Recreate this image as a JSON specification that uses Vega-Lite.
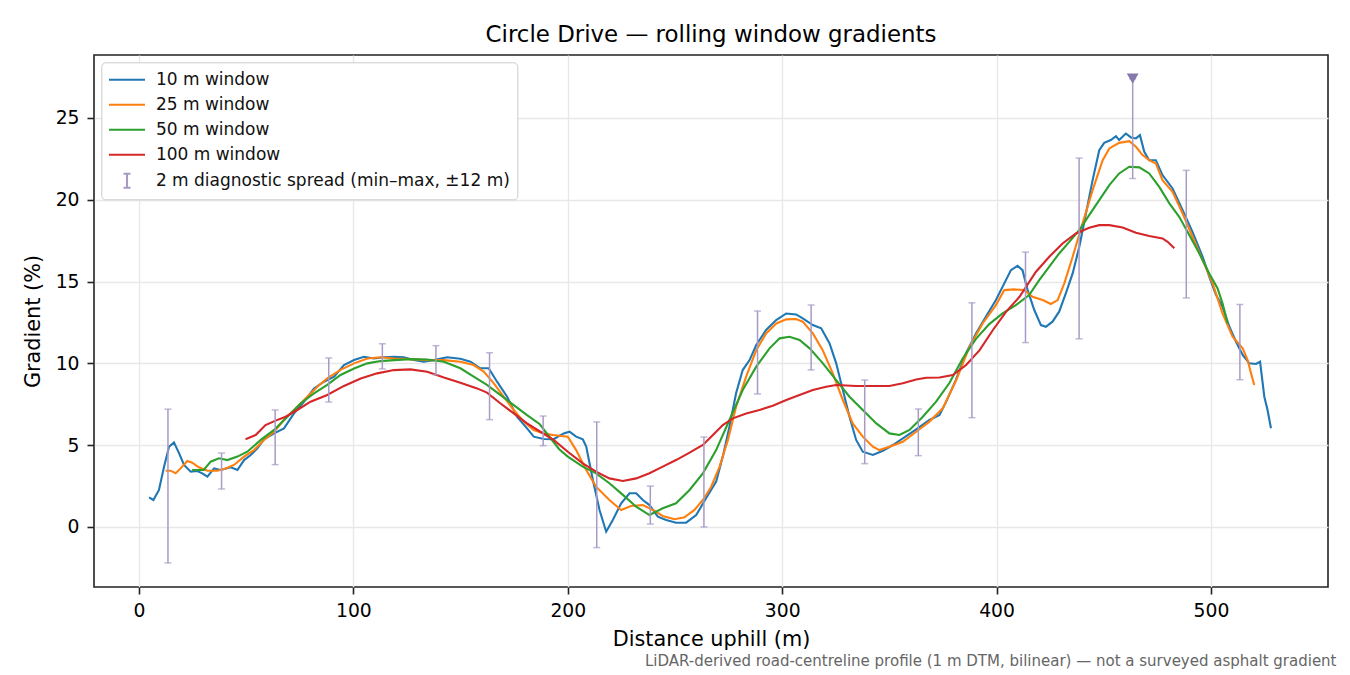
{
  "$schema": "https://vega.github.io/schema/vega-lite/v6.json",
  "width": 1234,
  "height": 532,
  "autosize": {"type": "none"},
  "padding": {"left": 94, "top": 55, "right": 22, "bottom": 88},
  "title": {
    "text": "Circle Drive — rolling window gradients",
    "fontSize": 22.9,
    "fontWeight": "normal",
    "color": "#000",
    "baseline": "alphabetic",
    "offset": -10
  },
  "datasets": {
    "w10": [
      {"d": 4.7, "g": 1.81}, {"d": 6.7, "g": 1.65}, {"d": 9.3, "g": 2.26}, {"d": 11.7, "g": 3.69},
      {"d": 14.0, "g": 4.9}, {"d": 16.3, "g": 5.17}, {"d": 18.7, "g": 4.5}, {"d": 21.0, "g": 3.79},
      {"d": 24.1, "g": 3.38}, {"d": 27.2, "g": 3.42}, {"d": 29.5, "g": 3.28}, {"d": 31.9, "g": 3.08},
      {"d": 35.0, "g": 3.58}, {"d": 38.1, "g": 3.48}, {"d": 42.8, "g": 3.65}, {"d": 45.9, "g": 3.48},
      {"d": 49.0, "g": 4.09}, {"d": 52.1, "g": 4.4}, {"d": 55.2, "g": 4.81}, {"d": 58.3, "g": 5.36},
      {"d": 63.0, "g": 5.72}, {"d": 67.6, "g": 6.03}, {"d": 72.3, "g": 6.94}, {"d": 77.0, "g": 7.66},
      {"d": 81.6, "g": 8.47}, {"d": 86.3, "g": 8.88}, {"d": 91.0, "g": 9.19}, {"d": 95.6, "g": 9.9},
      {"d": 100.3, "g": 10.2}, {"d": 104.9, "g": 10.4}, {"d": 109.6, "g": 10.3}, {"d": 114.2, "g": 10.37},
      {"d": 118.9, "g": 10.4}, {"d": 123.5, "g": 10.37}, {"d": 128.2, "g": 10.2}, {"d": 132.8, "g": 10.1},
      {"d": 137.5, "g": 10.2}, {"d": 143.7, "g": 10.37}, {"d": 149.9, "g": 10.28}, {"d": 154.6, "g": 10.1},
      {"d": 159.2, "g": 9.7}, {"d": 163.1, "g": 9.7}, {"d": 167.0, "g": 8.88}, {"d": 171.7, "g": 7.96},
      {"d": 176.3, "g": 6.74}, {"d": 181.0, "g": 6.03}, {"d": 184.1, "g": 5.52}, {"d": 188.8, "g": 5.38},
      {"d": 193.4, "g": 5.36}, {"d": 198.1, "g": 5.72}, {"d": 200.8, "g": 5.82}, {"d": 203.9, "g": 5.52},
      {"d": 207.0, "g": 5.36}, {"d": 208.6, "g": 4.91}, {"d": 211.7, "g": 2.87}, {"d": 214.8, "g": 1.04},
      {"d": 217.9, "g": -0.29}, {"d": 221.0, "g": 0.43}, {"d": 224.9, "g": 1.45}, {"d": 228.8, "g": 2.06},
      {"d": 231.9, "g": 2.06}, {"d": 235.0, "g": 1.65}, {"d": 238.1, "g": 1.34}, {"d": 242.0, "g": 0.63},
      {"d": 245.9, "g": 0.43}, {"d": 250.5, "g": 0.26}, {"d": 255.2, "g": 0.26}, {"d": 259.9, "g": 0.73},
      {"d": 264.5, "g": 1.75}, {"d": 269.2, "g": 2.77}, {"d": 272.3, "g": 4.3}, {"d": 275.4, "g": 6.13},
      {"d": 278.5, "g": 8.17}, {"d": 281.6, "g": 9.59}, {"d": 284.8, "g": 10.2}, {"d": 287.9, "g": 11.12},
      {"d": 292.5, "g": 12.04}, {"d": 297.2, "g": 12.65}, {"d": 301.9, "g": 13.05}, {"d": 306.5, "g": 12.99},
      {"d": 309.6, "g": 12.75}, {"d": 314.3, "g": 12.34}, {"d": 318.2, "g": 12.14}, {"d": 322.1, "g": 11.22},
      {"d": 325.2, "g": 10.0}, {"d": 328.3, "g": 8.37}, {"d": 331.4, "g": 6.74}, {"d": 334.5, "g": 5.32},
      {"d": 337.6, "g": 4.6}, {"d": 342.3, "g": 4.4}, {"d": 347.0, "g": 4.66}, {"d": 351.6, "g": 5.01},
      {"d": 356.3, "g": 5.42}, {"d": 362.5, "g": 5.97}, {"d": 368.7, "g": 6.54}, {"d": 373.4, "g": 6.84},
      {"d": 376.5, "g": 7.66}, {"d": 381.0, "g": 8.98}, {"d": 385.7, "g": 10.61}, {"d": 390.4, "g": 11.83},
      {"d": 395.0, "g": 12.85}, {"d": 399.7, "g": 13.87}, {"d": 403.6, "g": 14.89}, {"d": 406.7, "g": 15.7},
      {"d": 409.8, "g": 15.97}, {"d": 412.1, "g": 15.7}, {"d": 414.5, "g": 14.48}, {"d": 417.6, "g": 13.26},
      {"d": 420.7, "g": 12.34}, {"d": 423.0, "g": 12.24}, {"d": 426.1, "g": 12.55}, {"d": 429.2, "g": 13.16},
      {"d": 432.3, "g": 14.28}, {"d": 435.5, "g": 15.5}, {"d": 438.6, "g": 17.13}, {"d": 441.7, "g": 19.16},
      {"d": 444.8, "g": 21.2}, {"d": 447.9, "g": 23.03}, {"d": 450.2, "g": 23.48}, {"d": 453.3, "g": 23.65},
      {"d": 455.7, "g": 23.89}, {"d": 457.2, "g": 23.65}, {"d": 460.3, "g": 24.05}, {"d": 462.7, "g": 23.81},
      {"d": 465.0, "g": 23.75}, {"d": 466.9, "g": 23.95}, {"d": 468.9, "g": 22.93}, {"d": 471.2, "g": 22.42},
      {"d": 474.3, "g": 22.42}, {"d": 477.4, "g": 21.51}, {"d": 482.1, "g": 20.69}, {"d": 486.8, "g": 19.37},
      {"d": 491.4, "g": 18.04}, {"d": 496.1, "g": 16.52}, {"d": 499.5, "g": 15.2}, {"d": 502.3, "g": 14.2},
      {"d": 505.4, "g": 13.46}, {"d": 508.6, "g": 12.24}, {"d": 511.7, "g": 11.32}, {"d": 514.8, "g": 10.51},
      {"d": 517.9, "g": 10.0}, {"d": 521.0, "g": 9.96}, {"d": 522.9, "g": 10.1}, {"d": 524.9, "g": 7.96},
      {"d": 526.4, "g": 7.15}, {"d": 528.0, "g": 6.03}
    ],
    "w25": [
      {"d": 12.4, "g": 3.44}, {"d": 14.7, "g": 3.44}, {"d": 17.1, "g": 3.28}, {"d": 19.4, "g": 3.58},
      {"d": 22.5, "g": 4.03}, {"d": 24.8, "g": 3.93}, {"d": 27.9, "g": 3.65}, {"d": 31.9, "g": 3.44},
      {"d": 36.5, "g": 3.44}, {"d": 40.4, "g": 3.58}, {"d": 44.3, "g": 3.79}, {"d": 49.0, "g": 4.3},
      {"d": 53.6, "g": 4.7}, {"d": 58.3, "g": 5.32}, {"d": 63.0, "g": 5.82}, {"d": 67.6, "g": 6.54},
      {"d": 72.3, "g": 7.15}, {"d": 77.0, "g": 7.76}, {"d": 83.2, "g": 8.57}, {"d": 87.8, "g": 9.08},
      {"d": 94.0, "g": 9.6}, {"d": 100.3, "g": 10.0}, {"d": 106.5, "g": 10.3}, {"d": 112.7, "g": 10.37},
      {"d": 118.9, "g": 10.3}, {"d": 126.6, "g": 10.26}, {"d": 134.4, "g": 10.2}, {"d": 142.2, "g": 10.2},
      {"d": 149.9, "g": 10.1}, {"d": 156.1, "g": 9.9}, {"d": 160.8, "g": 9.5}, {"d": 165.5, "g": 8.78},
      {"d": 170.1, "g": 7.96}, {"d": 174.8, "g": 7.15}, {"d": 179.4, "g": 6.44}, {"d": 184.1, "g": 5.93},
      {"d": 188.8, "g": 5.72}, {"d": 193.0, "g": 5.62}, {"d": 200.0, "g": 5.52}, {"d": 203.9, "g": 4.7},
      {"d": 208.6, "g": 3.48}, {"d": 213.2, "g": 2.46}, {"d": 219.4, "g": 1.65}, {"d": 224.9, "g": 1.04},
      {"d": 229.5, "g": 1.28}, {"d": 235.0, "g": 1.34}, {"d": 239.7, "g": 1.04}, {"d": 244.3, "g": 0.67},
      {"d": 249.8, "g": 0.47}, {"d": 254.4, "g": 0.59}, {"d": 259.1, "g": 1.04}, {"d": 263.0, "g": 1.65},
      {"d": 266.9, "g": 2.46}, {"d": 270.8, "g": 3.69}, {"d": 274.7, "g": 5.32}, {"d": 278.5, "g": 7.35},
      {"d": 283.2, "g": 9.19}, {"d": 287.9, "g": 10.81}, {"d": 292.5, "g": 11.83}, {"d": 297.2, "g": 12.44},
      {"d": 301.9, "g": 12.69}, {"d": 306.5, "g": 12.71}, {"d": 309.6, "g": 12.55}, {"d": 314.3, "g": 11.83},
      {"d": 318.9, "g": 10.81}, {"d": 323.6, "g": 9.39}, {"d": 328.3, "g": 7.76}, {"d": 332.9, "g": 6.33},
      {"d": 337.6, "g": 5.52}, {"d": 342.3, "g": 4.91}, {"d": 345.4, "g": 4.7}, {"d": 350.0, "g": 4.91},
      {"d": 356.3, "g": 5.21}, {"d": 362.5, "g": 5.82}, {"d": 368.7, "g": 6.44}, {"d": 374.9, "g": 7.25},
      {"d": 381.2, "g": 8.98}, {"d": 387.4, "g": 11.02}, {"d": 393.5, "g": 12.44}, {"d": 399.7, "g": 13.56},
      {"d": 403.6, "g": 14.48}, {"d": 408.2, "g": 14.52}, {"d": 412.9, "g": 14.48}, {"d": 416.8, "g": 14.07},
      {"d": 421.5, "g": 13.87}, {"d": 425.3, "g": 13.63}, {"d": 428.5, "g": 13.87}, {"d": 431.6, "g": 14.89},
      {"d": 435.5, "g": 16.52}, {"d": 440.1, "g": 18.55}, {"d": 444.8, "g": 20.59}, {"d": 449.5, "g": 22.42},
      {"d": 452.6, "g": 23.14}, {"d": 457.2, "g": 23.48}, {"d": 461.9, "g": 23.58}, {"d": 465.0, "g": 23.24},
      {"d": 468.1, "g": 22.73}, {"d": 471.2, "g": 22.42}, {"d": 474.3, "g": 22.22}, {"d": 477.4, "g": 21.2},
      {"d": 482.1, "g": 20.49}, {"d": 486.8, "g": 19.16}, {"d": 491.4, "g": 17.74}, {"d": 496.1, "g": 16.31},
      {"d": 500.8, "g": 14.89}, {"d": 505.4, "g": 13.05}, {"d": 510.1, "g": 11.63}, {"d": 514.8, "g": 10.92},
      {"d": 517.1, "g": 10.2}, {"d": 518.7, "g": 9.39}, {"d": 520.2, "g": 8.68}
    ],
    "w50": [
      {"d": 24.8, "g": 3.48}, {"d": 30.2, "g": 3.48}, {"d": 33.4, "g": 3.99}, {"d": 37.3, "g": 4.2},
      {"d": 41.2, "g": 4.09}, {"d": 45.9, "g": 4.3}, {"d": 50.5, "g": 4.6}, {"d": 56.8, "g": 5.32},
      {"d": 63.0, "g": 5.93}, {"d": 69.2, "g": 6.74}, {"d": 75.5, "g": 7.56}, {"d": 81.6, "g": 8.17},
      {"d": 87.8, "g": 8.68}, {"d": 94.0, "g": 9.29}, {"d": 100.3, "g": 9.69}, {"d": 106.5, "g": 10.0},
      {"d": 112.7, "g": 10.14}, {"d": 118.9, "g": 10.2}, {"d": 126.6, "g": 10.26}, {"d": 134.4, "g": 10.24},
      {"d": 142.2, "g": 10.1}, {"d": 149.9, "g": 9.7}, {"d": 156.1, "g": 9.19}, {"d": 162.3, "g": 8.68},
      {"d": 168.5, "g": 8.07}, {"d": 174.8, "g": 7.45}, {"d": 181.0, "g": 6.84}, {"d": 186.8, "g": 6.3},
      {"d": 191.5, "g": 5.5}, {"d": 196.0, "g": 4.75}, {"d": 200.0, "g": 4.3}, {"d": 207.0, "g": 3.69},
      {"d": 213.2, "g": 3.28}, {"d": 219.4, "g": 2.67}, {"d": 225.7, "g": 1.96}, {"d": 231.9, "g": 1.24},
      {"d": 238.1, "g": 0.73}, {"d": 244.3, "g": 1.14}, {"d": 250.5, "g": 1.45}, {"d": 256.8, "g": 2.26},
      {"d": 263.0, "g": 3.28}, {"d": 269.2, "g": 4.7}, {"d": 275.4, "g": 6.54}, {"d": 281.6, "g": 8.37},
      {"d": 287.9, "g": 9.8}, {"d": 294.1, "g": 10.92}, {"d": 298.8, "g": 11.53}, {"d": 303.4, "g": 11.63},
      {"d": 308.1, "g": 11.43}, {"d": 312.8, "g": 10.92}, {"d": 319.0, "g": 10.0}, {"d": 325.2, "g": 8.98},
      {"d": 331.4, "g": 7.96}, {"d": 337.6, "g": 7.15}, {"d": 343.9, "g": 6.33}, {"d": 350.0, "g": 5.72},
      {"d": 354.7, "g": 5.62}, {"d": 359.4, "g": 5.93}, {"d": 365.6, "g": 6.74}, {"d": 371.8, "g": 7.66},
      {"d": 378.0, "g": 8.8}, {"d": 384.2, "g": 10.3}, {"d": 390.4, "g": 11.5}, {"d": 396.6, "g": 12.4},
      {"d": 402.8, "g": 13.05}, {"d": 409.0, "g": 13.56}, {"d": 415.2, "g": 14.18}, {"d": 419.9, "g": 15.09},
      {"d": 424.6, "g": 15.91}, {"d": 429.2, "g": 16.72}, {"d": 433.9, "g": 17.43}, {"d": 438.6, "g": 18.15},
      {"d": 443.2, "g": 19.06}, {"d": 447.9, "g": 19.98}, {"d": 452.6, "g": 20.9}, {"d": 457.2, "g": 21.61},
      {"d": 461.9, "g": 22.02}, {"d": 466.6, "g": 21.98}, {"d": 471.2, "g": 21.61}, {"d": 475.9, "g": 20.79},
      {"d": 480.6, "g": 19.78}, {"d": 485.2, "g": 18.96}, {"d": 489.9, "g": 17.84}, {"d": 494.6, "g": 16.72},
      {"d": 499.2, "g": 15.5}, {"d": 503.1, "g": 14.58}, {"d": 505.4, "g": 13.67}, {"d": 507.8, "g": 12.44}
    ],
    "w100": [
      {"d": 49.7, "g": 5.36}, {"d": 54.4, "g": 5.62}, {"d": 59.0, "g": 6.23}, {"d": 63.7, "g": 6.5},
      {"d": 68.4, "g": 6.74}, {"d": 73.8, "g": 7.15}, {"d": 80.0, "g": 7.66}, {"d": 87.8, "g": 8.07},
      {"d": 95.6, "g": 8.62}, {"d": 103.4, "g": 9.08}, {"d": 111.1, "g": 9.39}, {"d": 118.9, "g": 9.59},
      {"d": 126.6, "g": 9.63}, {"d": 134.4, "g": 9.49}, {"d": 142.2, "g": 9.14}, {"d": 149.9, "g": 8.82},
      {"d": 157.7, "g": 8.47}, {"d": 162.3, "g": 8.21}, {"d": 168.5, "g": 7.56}, {"d": 174.8, "g": 6.94},
      {"d": 181.0, "g": 6.33}, {"d": 187.2, "g": 5.82}, {"d": 193.4, "g": 5.32}, {"d": 200.0, "g": 4.6},
      {"d": 207.0, "g": 3.89}, {"d": 213.2, "g": 3.38}, {"d": 219.4, "g": 2.97}, {"d": 225.7, "g": 2.81},
      {"d": 231.9, "g": 2.97}, {"d": 238.1, "g": 3.28}, {"d": 244.3, "g": 3.69}, {"d": 250.5, "g": 4.09},
      {"d": 256.8, "g": 4.54}, {"d": 263.0, "g": 5.01}, {"d": 267.7, "g": 5.62}, {"d": 272.3, "g": 6.23},
      {"d": 277.0, "g": 6.64}, {"d": 283.2, "g": 6.94}, {"d": 289.4, "g": 7.15}, {"d": 295.6, "g": 7.41},
      {"d": 301.9, "g": 7.76}, {"d": 308.1, "g": 8.07}, {"d": 314.3, "g": 8.37}, {"d": 320.5, "g": 8.57},
      {"d": 325.2, "g": 8.68}, {"d": 334.5, "g": 8.62}, {"d": 342.3, "g": 8.62}, {"d": 350.0, "g": 8.62},
      {"d": 356.3, "g": 8.78}, {"d": 362.5, "g": 9.02}, {"d": 367.2, "g": 9.12}, {"d": 373.4, "g": 9.14},
      {"d": 379.6, "g": 9.29}, {"d": 385.8, "g": 9.9}, {"d": 392.1, "g": 10.81}, {"d": 398.3, "g": 12.04},
      {"d": 404.5, "g": 13.16}, {"d": 410.7, "g": 14.07}, {"d": 418.4, "g": 15.6}, {"d": 424.6, "g": 16.52},
      {"d": 430.8, "g": 17.33}, {"d": 437.0, "g": 17.94}, {"d": 443.2, "g": 18.29}, {"d": 447.9, "g": 18.45},
      {"d": 452.6, "g": 18.45}, {"d": 458.8, "g": 18.31}, {"d": 465.0, "g": 17.98}, {"d": 471.2, "g": 17.78},
      {"d": 477.4, "g": 17.64}, {"d": 479.8, "g": 17.43}, {"d": 482.9, "g": 17.03}
    ],
    "spread": [
      {"d": 13.5, "lo": -2.2, "hi": 7.2}, {"d": 38.5, "lo": 2.32, "hi": 4.52},
      {"d": 63.5, "lo": 3.81, "hi": 7.15}, {"d": 88.5, "lo": 7.64, "hi": 10.33},
      {"d": 113.5, "lo": 9.66, "hi": 11.2}, {"d": 138.5, "lo": 9.31, "hi": 11.08},
      {"d": 163.5, "lo": 6.56, "hi": 10.65}, {"d": 188.5, "lo": 4.97, "hi": 6.78},
      {"d": 213.5, "lo": -1.26, "hi": 6.42}, {"d": 238.5, "lo": 0.18, "hi": 2.5},
      {"d": 263.5, "lo": 0.0, "hi": 5.5}, {"d": 288.5, "lo": 8.13, "hi": 13.2},
      {"d": 313.5, "lo": 9.6, "hi": 13.57}, {"d": 338.5, "lo": 3.87, "hi": 8.98},
      {"d": 363.5, "lo": 4.36, "hi": 7.21}, {"d": 388.5, "lo": 6.68, "hi": 13.7},
      {"d": 413.5, "lo": 11.27, "hi": 16.8}, {"d": 438.5, "lo": 11.5, "hi": 22.55},
      {"d": 463.5, "lo": 21.3, "hi": 27.4}, {"d": 488.5, "lo": 14.0, "hi": 21.8},
      {"d": 513.5, "lo": 9.0, "hi": 13.6}
    ],
    "peak": [{"d": 463.5, "g": 27.4}]
  },
  "layer": [
    {
      "data": {"name": "w10"},
      "mark": {"type": "line", "strokeWidth": 2.1},
      "encoding": {
        "x": {
          "field": "d", "type": "quantitative",
          "scale": {"domain": [-21, 554.6], "nice": false, "zero": false},
          "axis": {"values": [0, 100, 200, 300, 400, 500], "title": "Distance uphill (m)", "labelPadding": 7, "titlePadding": 10}
        },
        "y": {
          "field": "g", "type": "quantitative",
          "scale": {"domain": [-3.67, 28.85], "nice": false, "zero": false},
          "axis": {"values": [0, 5, 10, 15, 20, 25], "title": "Gradient (%)", "labelPadding": 8, "titlePadding": 12}
        },
        "color": {
          "datum": "10 m window",
          "scale": {
            "domain": ["10 m window", "25 m window", "50 m window", "100 m window", "2 m diagnostic spread (min–max, ±12 m)"],
            "range": ["#1f77b4", "#ff7f0e", "#2ca02c", "#d62728", "#a89ac5"]
          },
          "legend": {
            "title": null,
            "orient": "none",
            "legendX": 7.3,
            "legendY": 7.3,
            "symbolType": "M-2,0H2",
            "symbolSize": 324,
            "symbolStrokeWidth": 2.1,
            "symbolOffset": 8.2,
            "labelFontSize": 17,
            "labelColor": "#111",
            "labelOffset": 18.4,
            "labelLimit": 600,
            "rowPadding": 6,
            "padding": 7,
            "fillColor": "white",
            "strokeColor": "#cccccc",
            "cornerRadius": 4,
            "encode": {
              "symbols": {
                "update": {
                  "shape": {"signal": "indexof(datum.value, 'spread') >= 0 ? 'M-0.39,-0.78H0.39M0,-0.78V0.78M-0.39,0.78H0.39' : 'M-2,0H2'"}
                }
              }
            }
          }
        }
      }
    },
    {
      "data": {"name": "w25"},
      "mark": {"type": "line", "strokeWidth": 2.1},
      "encoding": {
        "x": {"field": "d", "type": "quantitative", "scale": {"domain": [-21, 554.6], "nice": false, "zero": false}, "axis": null},
        "y": {"field": "g", "type": "quantitative", "title": "Gradient (%)", "scale": {"domain": [-3.67, 28.85], "nice": false, "zero": false}},
        "color": {"datum": "25 m window"}
      }
    },
    {
      "data": {"name": "w50"},
      "mark": {"type": "line", "strokeWidth": 2.1},
      "encoding": {
        "x": {"field": "d", "type": "quantitative", "scale": {"domain": [-21, 554.6], "nice": false, "zero": false}, "axis": null},
        "y": {"field": "g", "type": "quantitative", "title": "Gradient (%)", "scale": {"domain": [-3.67, 28.85], "nice": false, "zero": false}},
        "color": {"datum": "50 m window"}
      }
    },
    {
      "data": {"name": "w100"},
      "mark": {"type": "line", "strokeWidth": 2.1},
      "encoding": {
        "x": {"field": "d", "type": "quantitative", "scale": {"domain": [-21, 554.6], "nice": false, "zero": false}, "axis": null},
        "y": {"field": "g", "type": "quantitative", "title": "Gradient (%)", "scale": {"domain": [-3.67, 28.85], "nice": false, "zero": false}},
        "color": {"datum": "100 m window"}
      }
    },
    {
      "data": {"name": "spread"},
      "mark": {"type": "errorbar", "ticks": true, "size": 7, "thickness": 1.5},
      "encoding": {
        "x": {"field": "d", "type": "quantitative", "scale": {"domain": [-21, 554.6], "nice": false, "zero": false}, "axis": null},
        "y": {"field": "lo", "type": "quantitative", "title": "Gradient (%)", "scale": {"domain": [-3.67, 28.85], "nice": false, "zero": false}},
        "y2": {"field": "hi"},
        "color": {"datum": "2 m diagnostic spread (min–max, ±12 m)"}
      }
    },
    {
      "data": {"name": "peak"},
      "mark": {"type": "point", "shape": "triangle-down", "filled": true, "size": 140, "color": "#8678ad", "opacity": 1},
      "encoding": {
        "x": {
          "field": "d", "type": "quantitative",
          "scale": {"domain": [-21, 554.6], "nice": false, "zero": false},
          "axis": {
            "orient": "bottom",
            "title": "LiDAR-derived road-centreline profile (1 m DTM, bilinear) — not a surveyed asphalt gradient",
            "labels": false, "ticks": false, "grid": false, "domain": false,
            "titleFontSize": 15, "titleColor": "#666666",
            "titleX": 1242, "titleY": 73, "titleAlign": "right", "titleBaseline": "middle"
          }
        },
        "y": {"field": "g", "type": "quantitative", "title": "Gradient (%)", "scale": {"domain": [-3.67, 28.85], "nice": false, "zero": false}}
      }
    }
  ],
  "resolve": {"axis": {"x": "independent"}},
  "config": {
    "font": "DejaVu Sans",
    "view": {"stroke": "#222222", "strokeWidth": 1.6},
    "axis": {
      "domain": false,
      "grid": true,
      "gridColor": "#e8e8e8",
      "gridWidth": 1.4,
      "tickColor": "#222222",
      "tickSize": 7,
      "tickWidth": 1.6,
      "labelFont": "DejaVu Sans",
      "labelFontSize": 18.75,
      "labelColor": "#000000",
      "titleFont": "DejaVu Sans",
      "titleFontSize": 20.8,
      "titleFontWeight": "normal",
      "titleColor": "#000000"
    },
    "legend": {"labelFont": "DejaVu Sans"}
  }
}
